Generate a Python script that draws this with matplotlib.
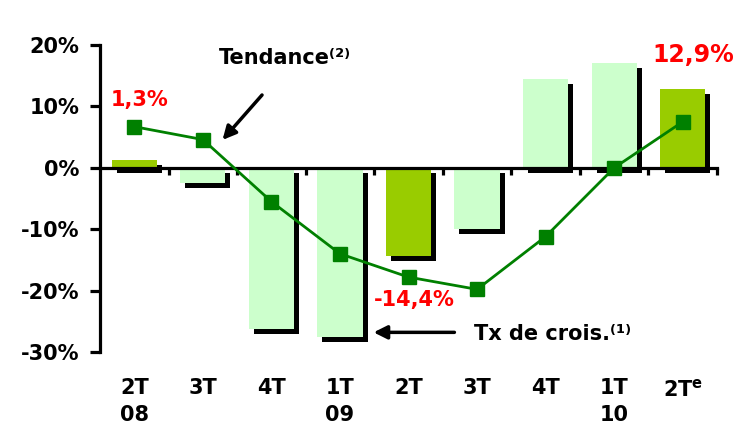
import numpy as np
import matplotlib
matplotlib.use("Agg")
import matplotlib.pyplot as plt
import matplotlib.patheffects as pe

# quarters
quarters = ['2T\n08', '3T', '4T', '1T\n09', '2T', '3T', '4T', '1T\n10', r'2T$^{\mathbf{e}}$']
# growth rate (bars), %
growth = [1.3, -2.4, -26.3, -27.6, -14.4, -9.9, 14.4, 17.0, 12.9]
# trend (line), %
trend = [6.7, 4.6, -5.5, -14.0, -17.8, -19.8, -11.2, 0.0, 7.5]
highlight = [True, False, False, False, True, False, False, False, True]

light_green = '#CCFFCC'
dark_green = '#99CC00'
line_green = '#008000'

plt.rcParams['font.family'] = ['DejaVu Sans']
plt.rcParams['font.weight'] = 'bold'

fig = plt.figure(figsize=(7.41, 4.30), dpi=100)
ax = fig.add_axes([0.135, 0.1814, 0.8326, 0.7139])

x = np.arange(len(quarters))
colors = [dark_green if h else light_green for h in highlight]

bars = ax.bar(x, growth, width=0.66, color=colors, zorder=2)
for b in bars:
    b.set_path_effects([pe.SimplePatchShadow(offset=(3.6, -3.6), shadow_rgbFace='black', alpha=1.0),
                        pe.Normal()])

ax.plot(x, trend, color=line_green, lw=2, marker='s', markersize=9.5, zorder=4)

ax.set_xlim(-0.5, 8.5)
ax.set_ylim(-30, 20)

# axes styling
for s in ['top', 'right']:
    ax.spines[s].set_visible(False)
ax.spines['left'].set_linewidth(2.3)
ax.spines['bottom'].set_linewidth(2.3)
ax.spines['bottom'].set_position(('data', 0))
ax.spines['bottom'].set_zorder(3)

ax.set_yticks([20, 10, 0, -10, -20, -30])
ax.set_yticklabels(['20%', '10%', '0%', '-10%', '-20%', '-30%'], fontsize=15, fontweight='bold')
ax.tick_params(axis='y', length=7, width=2.3, pad=8)

ax.set_xticks(np.arange(0.5, 9, 1.0))
ax.set_xticklabels([])
ax.tick_params(axis='x', length=5, width=2.3, direction='out')

for xi, lab in zip(x, quarters):
    ax.text(xi, -0.085, lab, transform=ax.get_xaxis_transform(), ha='center', va='top',
            fontsize=15, fontweight='bold', linespacing=1.45)

# value labels
ax.text(0.08, 11.1, '1,3%', color='red', fontsize=15, fontweight='bold', ha='center', va='center')
ax.text(8.15, 18.3, '12,9%', color='red', fontsize=17, fontweight='bold', ha='center', va='center')
ax.text(4.08, -21.5, '-14,4%', color='red', fontsize=15, fontweight='bold', ha='center', va='center')

# annotations
ax.annotate('', xy=(1.26, 4.2), xytext=(1.89, 12.2),
            arrowprops=dict(arrowstyle='-|>', color='black', lw=2.5, mutation_scale=20))
ax.text(1.23, 17.9, 'Tendance\u207d\u00b2\u207e', fontsize=15, fontweight='bold', ha='left', va='center')

ax.annotate('', xy=(3.45, -26.8), xytext=(4.71, -26.8),
            arrowprops=dict(arrowstyle='-|>', color='black', lw=2.5, mutation_scale=20))
ax.text(4.96, -27.0, 'Tx de crois.\u207d\u00b9\u207e', fontsize=15, fontweight='bold', ha='left', va='center')

fig.savefig('out.png', dpi=100)
